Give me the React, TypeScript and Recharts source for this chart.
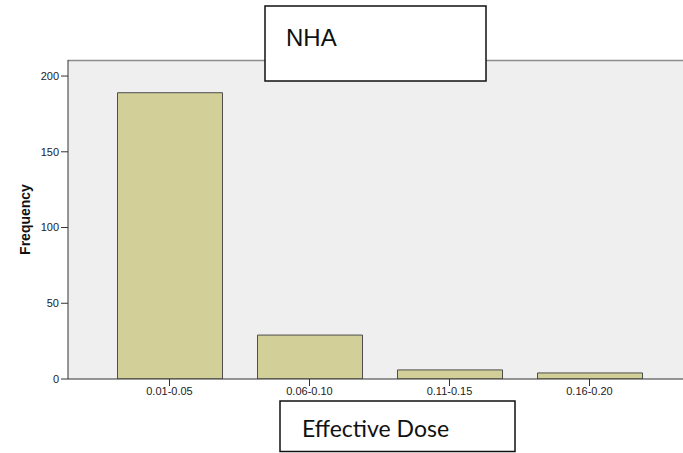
import { BarChart, Bar, XAxis, YAxis, CartesianGrid, Customized } from 'recharts';

const doseBins = ['0.01-0.05', '0.06-0.10', '0.11-0.15', '0.16-0.20'];
const frequencies = [189, 29, 6, 4];
const yTicks = [0, 50, 100, 150, 200];

const Y_MAX = 210.6;
const SANS = "'Liberation Sans', Arial, sans-serif";

const data = doseBins.map((bin, i) => ({ bin, count: frequencies[i] }));

// the two white boxes pasted over the chart
const Boxes = () => (
    <g>
        <rect x={265} y={6} width={221} height={75} fill="#ffffff" stroke="#111111" strokeWidth={1.5} />
        <text x={286} y={46} fontFamily={SANS} fontSize={24} fill="#111111">
            NHA
        </text>
        <rect x={280} y={401} width={235} height={50.5} fill="#ffffff" stroke="#111111" strokeWidth={1.5} />
        <text x={302} y={437} fontFamily="Lato, sans-serif" fontSize={23} fill="#111111">
            Effective Dose
        </text>
    </g>
);

export default function App() {
    return (
        <div style={{ position: 'absolute', left: 0, top: 0, width: 683, height: 453, overflow: 'hidden', background: '#ffffff' }}>
            <BarChart width={700} height={453} data={data} margin={{ top: 60, right: 0, bottom: 0, left: 0 }}>
                <CartesianGrid fill="#efefef" vertical={false} horizontalPoints={[60.5]} stroke="#8c8c8c" strokeWidth={1.5} />
                <XAxis
                    dataKey="bin"
                    height={74}
                    padding={{ left: 31.5, right: 40.5 }}
                    axisLine={{ stroke: '#333333' }}
                    tickLine={{ stroke: '#333333' }}
                    tickSize={7}
                    tickMargin={1}
                    tick={{ fontSize: 11, fill: '#222222', fontFamily: SANS }}
                />
                <YAxis
                    width={68}
                    domain={[0, Y_MAX]}
                    ticks={yTicks}
                    allowDataOverflow
                    axisLine={{ stroke: '#333333' }}
                    tickLine={{ stroke: '#333333' }}
                    tickSize={7}
                    tickMargin={2}
                    tick={{ fontSize: 11, fill: '#222222', fontFamily: SANS }}
                    label={{
                        value: 'Frequency',
                        angle: -90,
                        position: 'insideLeft',
                        offset: 25,
                        style: { fontSize: 14, fontWeight: 'bold', fill: '#111111', fontFamily: SANS, textAnchor: 'middle' },
                    }}
                />
                <Bar dataKey="count" fill="#d3cf98" stroke="#4d4d4d" strokeWidth={1} barSize={105} isAnimationActive={false} />
                <Customized component={Boxes} />
            </BarChart>
        </div>
    );
}
